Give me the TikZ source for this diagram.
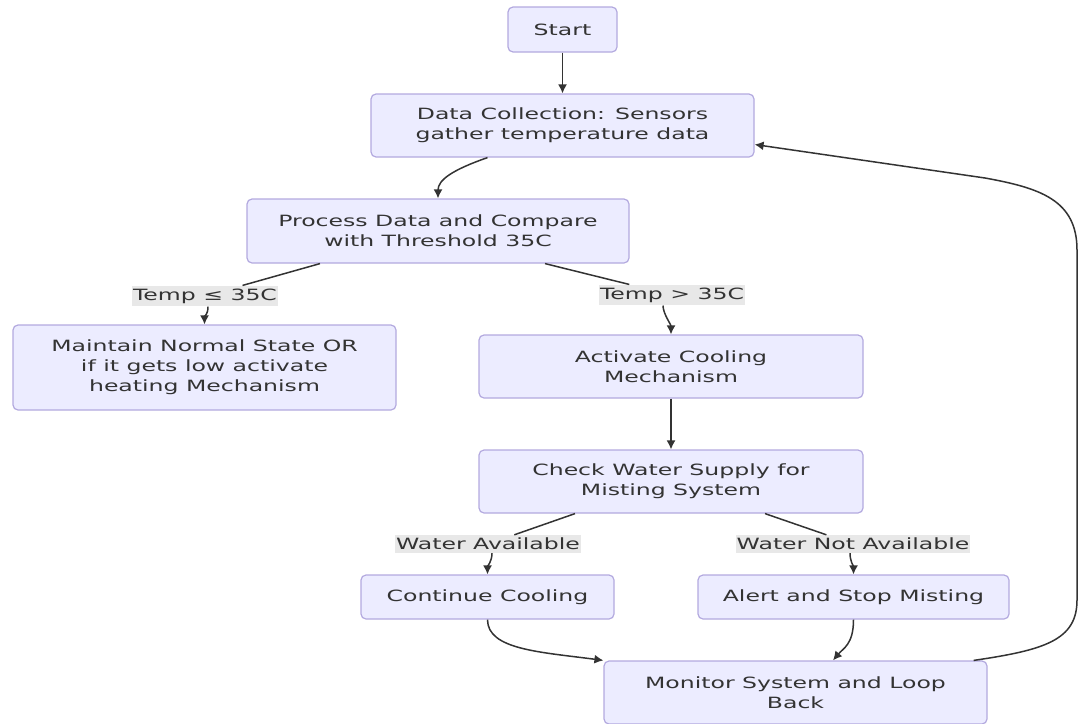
\documentclass[tikz,border=0pt]{standalone}
\usepackage{fontspec}
\setmainfont[FakeStretch=1.52]{DejaVu Sans}
\usepackage{tikz}
\usetikzlibrary{arrows,arrows.meta}
\usepackage{xcolor}
\definecolor{boxfill}{HTML}{ECECFF}
\definecolor{boxline}{HTML}{B3A9DF}
\definecolor{edgecol}{HTML}{333333}
\definecolor{lblfill}{HTML}{E8E8E8}

\begin{document}
\begin{tikzpicture}[%
        x=1pt, y=-1pt,
        every node/.style={font=\fontsize{15.5pt}{20pt}\selectfont, text=edgecol, align=center},
        box/.style={draw=boxline, fill=boxfill, rounded corners=5pt, line width=1.2pt, inner sep=0pt},
        lbl/.style={fill=lblfill, inner xsep=1pt, inner ysep=3pt},
        line/.style={draw=edgecol, line width=1.5pt},
        >={Latex[length=9pt,width=9pt]}
      ]
      \useasboundingbox (0,0) rectangle (1078,723);
      \node [] (start) [box, minimum width=109pt, minimum height=45pt] at (562.5,29.5) {Start};
      \node [] (collect) [box, minimum width=383pt, minimum height=63pt] at (562.5,125.5) {Data Collection: Sensors\\gather temperature data};
      \node [] (process) [box, minimum width=382pt, minimum height=64pt] at (438,231) {Process Data and Compare\\with Threshold 35C};
      \node [] (maintain) [box, minimum width=383pt, minimum height=85pt] at (204.5,367.5) {Maintain Normal State OR\\if it gets low activate\\heating Mechanism};
      \node [] (activate) [box, minimum width=384pt, minimum height=63pt] at (671,366.5) {Activate Cooling\\Mechanism};
      \node [] (check) [box, minimum width=384pt, minimum height=63pt] at (671,481.5) {Check Water Supply for\\Misting System};
      \node [] (cont) [box, minimum width=253pt, minimum height=44pt] at (487.5,597) {Continue Cooling};
      \node [] (alert) [box, minimum width=311pt, minimum height=44pt] at (853.5,597) {Alert and Stop Misting};
      \node [] (monitor) [box, minimum width=383pt, minimum height=63pt] at (795.5,692.5) {Monitor System and Loop\\Back};
      % edge labels
      \node [] (le) [lbl] at (205,296) {Temp ≤ 35C};
      \node [] (gt) [lbl] at (672,295) {Temp > 35C};
      \node [] (avail) [lbl] at (488,544) {Water Available};
      \node [] (noavail) [lbl] at (853,544) {Water Not Available};
      % connectors
      \draw [line,->] (start) -- (collect);
      \draw [line,->] ([xshift=-75pt]collect.south) .. controls (452,170) and (438,180) .. (process.north);
      \draw [line] ([xshift=-118pt]process.south) -- (le);
      \draw [line,->] ([xshift=3pt]le.south) .. controls +(0,8) and +(0,-8) .. (maintain.north);
      \draw [line] ([xshift=107pt]process.south) -- (gt);
      \draw [line,->] ([xshift=-9pt]gt.south) .. controls +(0,8) and +(0,-10) .. (activate.north);
      \draw [line,->] (activate) -- (check);
      \draw [line] ([xshift=-96pt]check.south) -- (avail);
      \draw [line,->] ([xshift=4pt]avail.south) .. controls +(0,8) and +(0,-8) .. (cont.north);
      \draw [line] ([xshift=94pt]check.south) -- (noavail);
      \draw [line,->] ([xshift=-3pt]noavail.south) .. controls +(0,8) and +(0,-8) .. (alert.north);
      \draw [line,->] (cont.south) .. controls +(0,30) and (540,652) .. (monitor.north west);
      \draw [line,->] (alert.south) .. controls +(0,25) and +(10,-12) .. ([xshift=37.5pt]monitor.north);
      % loop back
      \draw [line,->] ([xshift=-14pt]monitor.north east) .. controls (1045,650) and (1077,640) .. (1077,600)
        -- (1077,250) .. controls (1077,200) and (1040,188) .. (985,178) -- ([yshift=-19pt]collect.east);
    \end{tikzpicture}
\end{document}
